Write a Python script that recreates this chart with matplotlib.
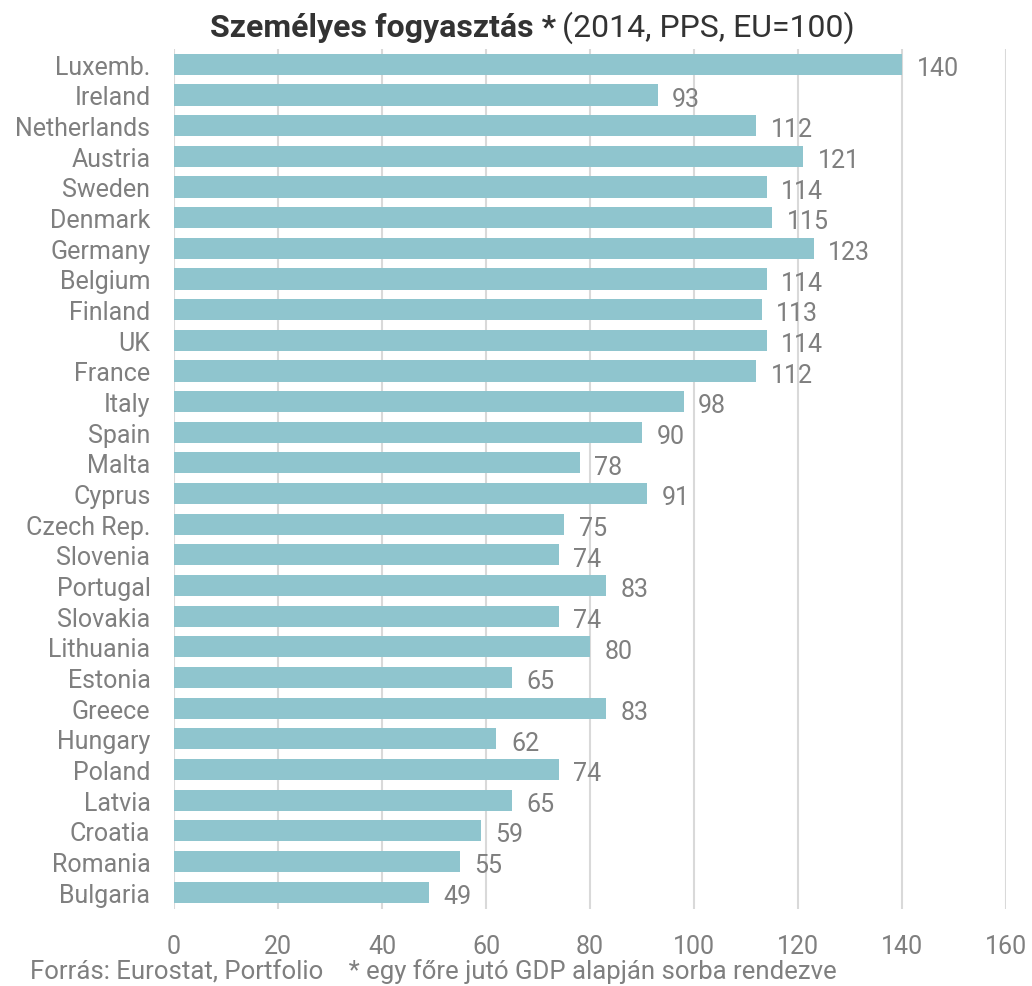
import matplotlib.pyplot as plt

plt.rcParams['font.family'] = ['Roboto', 'DejaVu Sans']

countries = ["Luxemb.", "Ireland", "Netherlands", "Austria", "Sweden", "Denmark",
             "Germany", "Belgium", "Finland", "UK", "France", "Italy", "Spain",
             "Malta", "Cyprus", "Czech Rep.", "Slovenia", "Portugal", "Slovakia",
             "Lithuania", "Estonia", "Greece", "Hungary", "Poland", "Latvia",
             "Croatia", "Romania", "Bulgaria"]
values = [140, 93, 112, 121, 114, 115, 123, 114, 113, 114, 112, 98, 90,
          78, 91, 75, 74, 83, 74, 80, 65, 83, 62, 74, 65, 59, 55, 49]
xticks = [0, 20, 40, 60, 80, 100, 120, 140, 160]

grey = "#7f7f7f"
bar_color = "#8fc5ce"

fig = plt.figure(figsize=(10.32, 9.87), dpi=100)
ax = fig.add_axes([174/1032, 1 - 910/987, (1006 - 174)/1032, (910 - 50)/987])

ypos = list(range(len(countries)))
ax.barh(ypos, values, height=0.69, color=bar_color, zorder=2)

for y, v in zip(ypos, values):
    ax.text(v + 2.8, y + 0.12, str(v), va="center", ha="left",
            fontsize=18, color=grey)

ax.set_xlim(0, 160)
ax.set_ylim(len(countries) - 0.45, -0.5)
ax.set_xticks(xticks)
ax.set_yticks(ypos)
ax.set_yticklabels(countries)
ax.tick_params(axis="both", length=0, labelsize=18, colors=grey)
ax.tick_params(axis="y", pad=17)
ax.tick_params(axis="x", pad=18)
ax.grid(axis="x", color="#d9d9d9", linewidth=1.5, zorder=0)
for s in ax.spines.values():
    s.set_visible(False)

fig.text(556/1032, 1 - 28/987, "Személyes fogyasztás *", ha="right", va="center",
         fontsize=23, fontweight="bold", color="#333333")
fig.text(562/1032, 1 - 28/987, "(2014, PPS, EU=100)", ha="left", va="center",
         fontsize=23, color="#333333")
fig.text(30/1032, 1 - 972/987,
         "Forrás: Eurostat, Portfolio    * egy főre jutó GDP alapján sorba rendezve",
         ha="left", va="center", fontsize=18.5, color=grey)

fig.savefig("out.png", dpi=100)
